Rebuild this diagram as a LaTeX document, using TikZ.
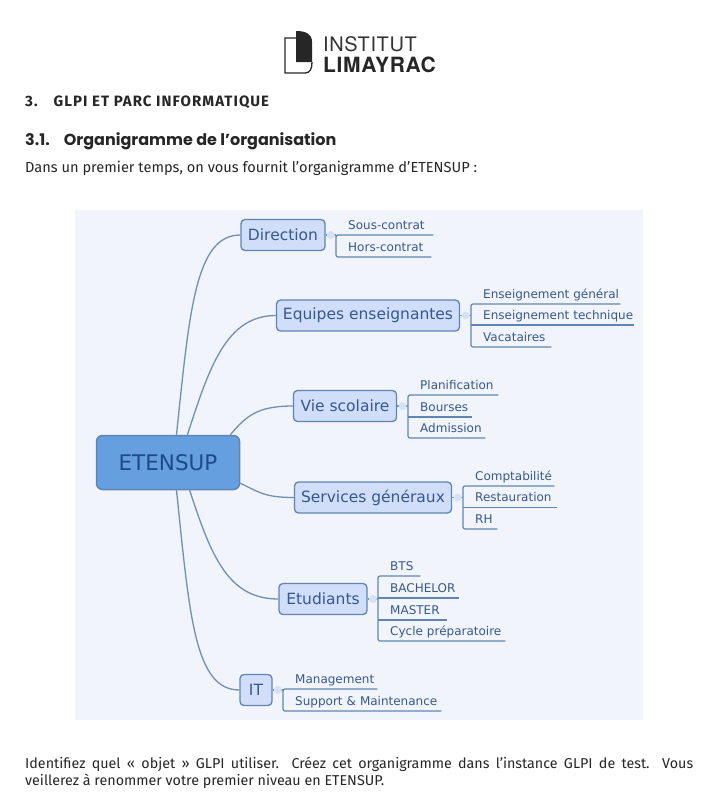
\documentclass[tikz,border=0pt]{standalone}
\usepackage{fontspec}
\setmainfont{Fira Sans}
\newfontfamily\mapfont{DejaVu Sans}
\newfontfamily\headfont{Poppins}
\newfontfamily\logofont{TeX Gyre Heros}
\usetikzlibrary{arrows.meta, positioning, calc}
\definecolor{mapbg}{HTML}{F2F4FB}
\definecolor{mapline}{HTML}{6F8FB5}
\definecolor{boxfill}{HTML}{D0DEFA}
\definecolor{boxline}{HTML}{5F86B3}
\definecolor{rootfill}{HTML}{659FDF}
\definecolor{roottext}{HTML}{1C4A8A}
\definecolor{maptext}{HTML}{35588F}
\definecolor{dotfill}{HTML}{D5E1F5}

\begin{document}
\begin{tikzpicture}[
    x=1pt, y=-1pt,
    root/.style={draw=boxline, fill=rootfill, line width=1.5pt, rounded corners=6pt, text=roottext, font=\mapfont\fontsize{21.5}{24}\selectfont, minimum width=143pt, minimum height=54pt, inner sep=0pt},
    topic/.style={draw=boxline, fill=boxfill, line width=1.3pt, rounded corners=4pt, text=maptext, font=\mapfont\fontsize{15.5}{18}\selectfont, minimum height=31pt, inner sep=0pt},
    leaf/.style={anchor=south west, text width=#1, inner xsep=0pt, inner ysep=0pt, text height=10pt, text depth=5.5pt, text=maptext, font=\mapfont\fontsize{12}{14}\selectfont, execute at begin node={\hspace*{12pt}}},
    fold/.style={circle, fill=dotfill, minimum size=8pt, inner sep=0pt},
    branch/.style={draw=mapline, line width=1.3pt},
    sub/.style={draw=boxline, line width=1.2pt, rounded corners=2pt},
    bodytext/.style={anchor=base west, inner sep=0pt, font=\fontsize{14.6}{17}\selectfont, text=black!85},
    ]
    \useasboundingbox (0,0) rectangle (707,796);
    \fill[white] (0,0) rectangle (707,796);

    % Logo
    \node[anchor=base west, inner sep=0pt, font=\logofont\fontsize{20}{22}\selectfont\addfontfeature{LetterSpace=3}, text=black!80] (inst) at (323,51.5) {INSTITUT};
    \node[anchor=base west, inner sep=0pt, font=\logofont\bfseries\fontsize{21}{22}\selectfont\addfontfeature{LetterSpace=3}, text=black!85] (lima) at (323,72.5) {LIMAYRAC};
    \fill[black!85] (296,31) .. controls (306,31) and (312,34) .. (312,42) -- (312,62) -- (296,62) -- cycle;
    \draw[black!85, line width=1.3pt] (296,38) -- (285,38) -- (285,73) -- (305,73) .. controls (310,73) and (312,69) .. (312,62);

    % Page headings
    \node[bodytext, font=\bfseries\fontsize{15}{17}\selectfont\addfontfeature{LetterSpace=7}] (sec) at (25,106) {3.\hspace{16pt}GLPI ET PARC INFORMATIQUE};
    \node[bodytext, font=\headfont\bfseries\fontsize{16}{18}\selectfont] (subsec) at (25,145) {3.1.\hspace{14pt}Organigramme de l’organisation};
    \node[bodytext] (intro) at (25,172) {Dans un premier temps, on vous fournit l’organigramme d’ETENSUP :};

    % Mind map background
    \fill[mapbg] (75,210) rectangle (643,720);

    % Central topic
    \node[root] (etensup) at (168,462.5) {ETENSUP};

    % Main topics
    \node[topic, minimum width=84pt] (direction) at (283,235) {Direction};
    \node[topic, minimum width=183pt] (equipes) at (368,315.5) {Equipes enseignantes};
    \node[topic, minimum width=103pt] (vie) at (345,406) {Vie scolaire};
    \node[topic, minimum width=157pt] (services) at (373,497.5) {Services généraux};
    \node[topic, minimum width=88pt] (etudiants) at (323,599) {Etudiants};
    \node[topic, minimum width=32pt] (it) at (256,690) {IT};

    % Branches from the centre
    \draw[branch] (etensup.73) .. controls +(-84:125) and +(180:45) .. (direction.west);
    \draw[branch] (etensup.55) .. controls +(-72:70) and +(180:50) .. (equipes.west);
    \draw[branch] (etensup.24) .. controls +(-50:25) and +(180:35) .. (vie.west);
    \draw[branch] (etensup.-16) .. controls +(25:20) and +(180:30) .. (services.west);
    \draw[branch] (etensup.-52) .. controls +(72:70) and +(180:50) .. (etudiants.west);
    \draw[branch] (etensup.-73) .. controls +(84:125) and +(180:45) .. (it.west);

    % Direction
    \node[leaf=97pt] (sc) at (336,235) {Sous-contrat};
    \node[leaf=95pt] (hc) at (336,257) {Hors-contrat};
    \draw[sub] (sc.south east) -- (sc.south west) -- (hc.south west) -- (hc.south east);
    \draw[branch] (direction.east) -- node[fold] (fdirection) {} (sc.south west);

    % Equipes enseignantes
    \node[leaf=149pt] (eg) at (471,304) {Enseignement général};
    \node[leaf=163pt] (et) at (471,325) {Enseignement technique};
    \node[leaf=80pt] (va) at (471,347) {Vacataires};
    \draw[sub] (eg.south east) -- (eg.south west) -- (va.south west) -- (va.south east);
    \draw[sub] (et.south west) -- (et.south east);
    \draw[branch] (equipes.east) -- node[fold] (fequipes) {} (equipes.east -| et.west);

    % Vie scolaire
    \node[leaf=90pt] (pl) at (408,395) {Planification};
    \node[leaf=64pt] (bo) at (408,417) {Bourses};
    \node[leaf=77pt] (ad) at (408,438) {Admission};
    \draw[sub] (pl.south east) -- (pl.south west) -- (ad.south west) -- (ad.south east);
    \draw[sub] (bo.south west) -- (bo.south east);
    \draw[branch] (vie.east) -- node[fold] (fvie) {} (vie.east -| bo.west);

    % Services generaux
    \node[leaf=91pt] (co) at (463,486) {Comptabilité};
    \node[leaf=94pt] (re) at (463,507.5) {Restauration};
    \node[leaf=34pt] (rh) at (463,529) {RH};
    \draw[sub] (co.south east) -- (co.south west) -- (rh.south west) -- (rh.south east);
    \draw[sub] (re.south west) -- (re.south east);
    \draw[branch] (services.east) -- node[fold] (fservices) {} (services.east -| re.west);

    % Etudiants
    \node[leaf=42pt] (bt) at (378,576) {BTS};
    \node[leaf=81pt] (ba) at (378,598) {BACHELOR};
    \node[leaf=69pt] (ma) at (378,620) {MASTER};
    \node[leaf=127pt] (cy) at (378,641) {Cycle préparatoire};
    \draw[sub] (bt.south east) -- (bt.south west) -- (cy.south west) -- (cy.south east);
    \draw[sub] (ba.south west) -- (ba.south east);
    \draw[sub] (ma.south west) -- (ma.south east);
    \draw[branch] (etudiants.east) -- node[fold] (fetudiants) {} (etudiants.east -| ba.west);

    % IT
    \node[leaf=94pt] (mg) at (283,689) {Management};
    \node[leaf=158pt] (su) at (283,711) {Support \& Maintenance};
    \draw[sub] (mg.south east) -- (mg.south west) -- (su.south west) -- (su.south east);
    \draw[branch] (it.east) -- node[fold] (fit) {} (it.east -| mg.west);

    % Closing text
    \node[bodytext, anchor=north west, text width=668pt, align=justify, font=\fontsize{14.3}{17}\selectfont] (outro) at (25,757) {Identifiez quel « objet » GLPI utiliser. Créez cet organigramme dans l’instance GLPI de test. Vous\linebreak veillerez à renommer votre premier niveau en ETENSUP.};
\end{tikzpicture}
\end{document}
